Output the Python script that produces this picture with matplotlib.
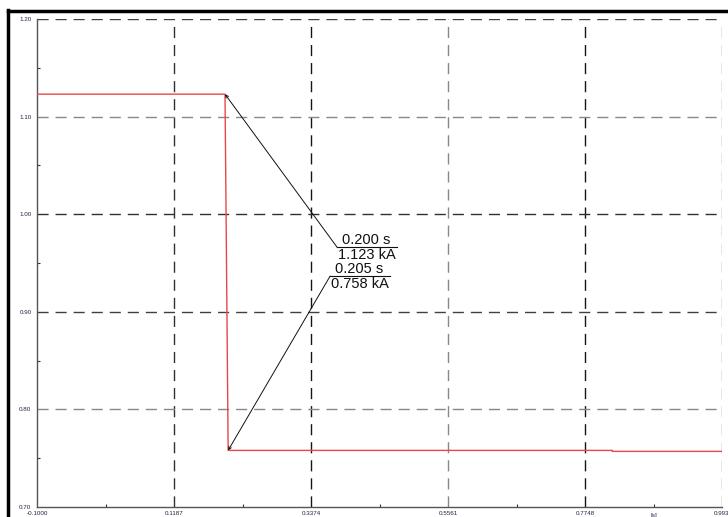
import numpy as np
import matplotlib.pyplot as plt
from matplotlib.lines import Line2D
from matplotlib.ticker import FixedLocator

# short-circuit current trace
time_s = [-0.1000, 0.200, 0.205, 0.818, 0.818, 0.993]
current_ka = [1.123, 1.123, 0.758, 0.758, 0.757, 0.757]

x_ticks = [-0.1000, 0.1187, 0.3374, 0.5561, 0.7748, 0.993]
x_labels = ['-0.1000', '0.1187', '0.3374', '0.5561', '0.7748', '0.993']
y_ticks = [0.70, 0.80, 0.90, 1.00, 1.10, 1.20]
y_labels = ['0.70', '0.80', '0.90', '1.00', '1.10', '1.20']

# marked points: (time, current)
markers = [(0.200, 1.123), (0.205, 0.758)]

plt.rcParams['font.family'] = ['Liberation Sans', 'DejaVu Sans']

fig = plt.figure(figsize=(7.28, 5.17), dpi=100)
ax = fig.add_axes([37 / 728, 1 - 507 / 517, 685 / 728, 488 / 517])

ax.set_xlim(x_ticks[0], x_ticks[-1])
ax.set_ylim(y_ticks[0], y_ticks[-1])

# dashed grid, alternating dark / grey like the original window
v_colors = [None, '#303030', '#151515', '#888888', '#151515', '#888888']
h_colors = [None, '#888888', '#404040', '#303030', '#888888', '#404040']
for xv, c in zip(x_ticks, v_colors):
    if c:
        ax.axvline(xv, color=c, lw=1.0, dashes=(8, 5), zorder=1)
for yv, c in zip(y_ticks, h_colors):
    if c:
        ax.axhline(yv, color=c, lw=1.0, dashes=(8, 5), zorder=1)

ax.plot(time_s, current_ka, color='#e8474a', lw=1.0, zorder=3)

ax.set_xticks(x_ticks)
ax.set_xticklabels(x_labels)
ax.set_yticks(y_ticks)
ax.set_yticklabels(y_labels)
ax.xaxis.set_minor_locator(FixedLocator([(a + b) / 2 for a, b in zip(x_ticks[:-1], x_ticks[1:])]))
ax.yaxis.set_minor_locator(FixedLocator([(a + b) / 2 for a, b in zip(y_ticks[:-1], y_ticks[1:])]))
ax.tick_params(which='major', length=0, labelsize=4.5, labelcolor='#222244', pad=4)
ax.tick_params(which='minor', length=2.5, direction='in', width=0.8, color='#333333')
ax.tick_params(axis='x', which='major', pad=3)

for s in ('top', 'right'):
    ax.spines[s].set_visible(False)
for s in ('left', 'bottom'):
    ax.spines[s].set_color('#555555')
    ax.spines[s].set_linewidth(1.0)

# unit label sits at the 4th minor tick
ax.text(0.8841, -0.012, '[s]', transform=ax.get_xaxis_transform(),
        ha='center', va='top', fontsize=4.5, color='#222244')

# value callouts: (label x, label y, underline length)
label_pos = [(0.379, 0.966, 0.096), (0.3677, 0.9366, 0.096)]
for (t, v), (lx, ly, w) in zip(markers, label_pos):
    ax.annotate('', xy=(t, v), xytext=(lx, ly),
                arrowprops=dict(arrowstyle='->', color='#111111', lw=0.7,
                                mutation_scale=5, shrinkA=0, shrinkB=0))
    ax.plot([lx, lx + w], [ly, ly], color='#111111', lw=0.8, zorder=4)
    ax.text(lx + 0.008, ly + 0.0005, f'{t:.3f} s', ha='left', va='bottom',
            fontsize=10.5, color='#111111')
    ax.text(lx + 0.001, ly - 0.0005, f'{v:.3f} kA', ha='left', va='top',
            fontsize=10.5, color='#111111')

# window frame on left and top
fig.add_artist(Line2D([8 / 728, 8 / 728], [0, 1 - 10 / 517], color='black', lw=2.5,
                      transform=fig.transFigure))
fig.add_artist(Line2D([8 / 728, 1], [1 - 11 / 517, 1 - 11 / 517], color='black', lw=2.5,
                      transform=fig.transFigure))

fig.savefig('out.png', dpi=100)
